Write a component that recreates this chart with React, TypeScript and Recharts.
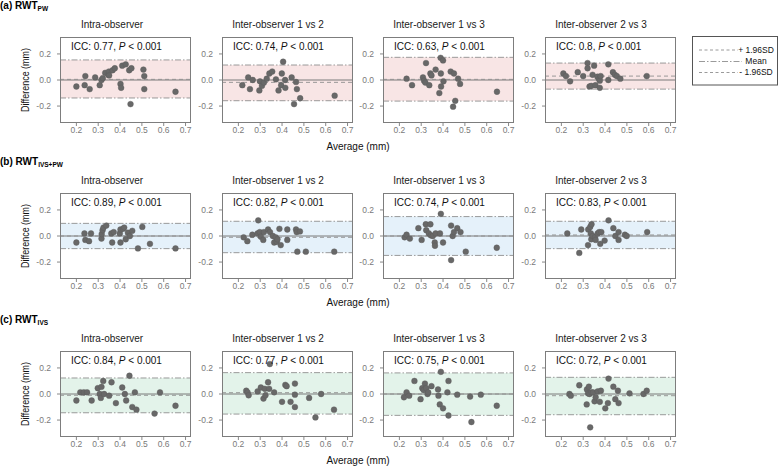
import React from "react";
import { ScatterChart, Scatter, XAxis, YAxis, ReferenceLine, ReferenceArea } from "recharts";

type Pt = [number, number];

// ---- data (average, difference) ----
const pwIntra: Pt[] = [[0.2,-0.05],[0.238,-0.04],[0.241,0.03],[0.261,-0.07],[0.286,0.02],[0.307,-0.04],[0.315,0.0],[0.321,0.015],[0.332,0.055],[0.346,0.04],[0.349,0.065],[0.35,0.035],[0.366,0.075],[0.376,0.09],[0.402,-0.03],[0.405,-0.06],[0.41,0.11],[0.426,0.12],[0.442,0.075],[0.448,-0.185],[0.452,0.09],[0.507,0.08],[0.511,0.03],[0.511,-0.07],[0.654,-0.09]];
const pwInter12: Pt[] = [[0.218,-0.04],[0.245,0.02],[0.253,-0.07],[0.266,0.0],[0.296,-0.08],[0.299,-0.01],[0.308,-0.045],[0.317,-0.02],[0.33,0.01],[0.342,0.05],[0.355,0.065],[0.372,0.005],[0.384,-0.08],[0.396,-0.04],[0.399,0.05],[0.405,0.14],[0.414,0.0],[0.415,-0.06],[0.444,0.02],[0.455,-0.185],[0.464,-0.015],[0.468,-0.07],[0.483,-0.14],[0.641,-0.12]];
const pwInter13: Pt[] = [[0.233,0.01],[0.258,-0.04],[0.308,0.02],[0.313,-0.005],[0.319,-0.02],[0.322,0.13],[0.337,-0.04],[0.342,0.05],[0.347,0.035],[0.366,0.08],[0.383,-0.1],[0.389,0.17],[0.39,0.05],[0.391,-0.05],[0.4,0.15],[0.402,-0.01],[0.435,0.065],[0.45,0.05],[0.446,-0.205],[0.456,-0.16],[0.469,0.01],[0.478,-0.03],[0.647,-0.09]];
const pwInter23: Pt[] = [[0.209,0.05],[0.221,0.03],[0.24,-0.01],[0.275,0.06],[0.3,0.03],[0.32,0.13],[0.32,0.09],[0.329,-0.05],[0.337,-0.045],[0.343,0.04],[0.35,0.11],[0.356,-0.04],[0.365,0.025],[0.373,0.005],[0.376,-0.005],[0.38,0.03],[0.376,-0.06],[0.415,0.12],[0.415,0.0],[0.436,0.06],[0.445,0.04],[0.454,0.03],[0.47,0.01],[0.591,0.03]];

const ivspwIntra: Pt[] = [[0.2,-0.05],[0.237,0.02],[0.241,-0.03],[0.258,-0.04],[0.267,0.02],[0.315,-0.02],[0.316,0.015],[0.32,0.045],[0.324,0.065],[0.337,0.08],[0.36,0.02],[0.364,-0.05],[0.371,0.03],[0.399,0.02],[0.402,0.05],[0.402,-0.05],[0.414,0.055],[0.419,0.065],[0.426,-0.025],[0.436,0.025],[0.445,0.0],[0.456,0.04],[0.482,-0.095],[0.502,0.07],[0.537,-0.06],[0.654,-0.095]];
const ivspwInter12: Pt[] = [[0.224,-0.01],[0.241,-0.04],[0.264,0.01],[0.288,0.02],[0.291,0.12],[0.298,0.03],[0.303,-0.005],[0.314,-0.03],[0.317,0.03],[0.336,0.05],[0.345,0.03],[0.358,0.0],[0.364,-0.05],[0.371,-0.01],[0.376,-0.045],[0.379,-0.025],[0.388,0.055],[0.394,-0.07],[0.424,0.05],[0.424,-0.03],[0.464,0.05],[0.467,0.03],[0.47,-0.12],[0.482,0.035],[0.509,-0.12],[0.639,-0.12]];
const ivspwInter13: Pt[] = [[0.224,-0.01],[0.233,0.01],[0.248,-0.02],[0.287,0.06],[0.302,-0.03],[0.321,0.09],[0.323,0.045],[0.335,0.02],[0.342,0.09],[0.344,0.005],[0.353,0.0],[0.362,-0.05],[0.363,-0.075],[0.366,0.02],[0.386,0.02],[0.39,0.17],[0.4,-0.05],[0.437,0.08],[0.437,-0.185],[0.444,0.0],[0.45,0.03],[0.465,0.06],[0.48,0.03],[0.504,-0.12],[0.646,-0.09]];
const ivspwInter23: Pt[] = [[0.227,0.02],[0.282,-0.13],[0.291,0.05],[0.322,-0.07],[0.323,0.05],[0.332,0.07],[0.335,0.02],[0.338,0.09],[0.337,-0.025],[0.343,0.0],[0.354,-0.01],[0.357,-0.03],[0.366,0.02],[0.373,0.03],[0.378,-0.06],[0.383,0.03],[0.398,-0.035],[0.416,0.12],[0.438,0.06],[0.447,0.0],[0.462,0.03],[0.462,-0.03],[0.491,0.01],[0.499,0.0],[0.593,0.03]];

const ivsIntra: Pt[] = [[0.2,-0.05],[0.218,0.013],[0.234,0.013],[0.249,0.013],[0.27,-0.05],[0.298,0.045],[0.307,0.0],[0.312,-0.03],[0.315,0.055],[0.323,0.1],[0.327,0.0],[0.35,-0.013],[0.361,0.09],[0.381,-0.07],[0.41,0.05],[0.422,0.0],[0.428,-0.05],[0.443,0.14],[0.456,-0.1],[0.468,0.013],[0.475,-0.12],[0.558,-0.15],[0.583,0.013],[0.654,-0.09]];
const ivsInter12: Pt[] = [[0.236,0.025],[0.242,0.013],[0.247,-0.01],[0.288,0.02],[0.303,0.05],[0.315,-0.035],[0.321,0.04],[0.324,-0.01],[0.336,0.09],[0.341,0.04],[0.344,0.23],[0.364,0.013],[0.4,-0.06],[0.415,0.07],[0.421,0.06],[0.439,-0.06],[0.459,0.08],[0.459,-0.005],[0.459,-0.1],[0.524,-0.03],[0.553,-0.18],[0.579,0.0],[0.638,-0.12]];
const ivsInter13: Pt[] = [[0.221,-0.025],[0.233,0.013],[0.245,-0.013],[0.269,0.1],[0.297,-0.04],[0.305,0.045],[0.311,0.03],[0.317,0.08],[0.323,0.045],[0.329,0.0],[0.332,0.013],[0.347,0.06],[0.377,0.035],[0.379,-0.013],[0.385,-0.08],[0.39,0.17],[0.4,-0.11],[0.42,0.013],[0.425,0.1],[0.425,-0.165],[0.465,-0.005],[0.524,-0.02],[0.53,-0.215],[0.573,-0.005],[0.646,-0.09]];
const ivsInter23: Pt[] = [[0.237,0.0],[0.243,-0.013],[0.282,0.067],[0.316,-0.08],[0.317,0.035],[0.322,0.005],[0.326,0.056],[0.329,0.0],[0.332,-0.256],[0.338,0.013],[0.345,0.013],[0.352,-0.056],[0.357,-0.025],[0.366,0.02],[0.376,-0.06],[0.381,0.025],[0.401,-0.11],[0.413,-0.07],[0.416,0.118],[0.438,0.056],[0.447,-0.04],[0.459,0.025],[0.462,-0.07],[0.512,0.005],[0.576,0.0],[0.591,0.025]];

// limits: [upper, mean, lower]
const pwLimits: number[][] = [[0.154,0.005,-0.138],[0.115,-0.018,-0.159],[0.174,0.005,-0.162],[0.13,0.03,-0.07]];
const ivspwLimits: number[][] = [[0.097,0.0,-0.097],[0.113,-0.01,-0.128],[0.149,0.0,-0.149],[0.113,0.008,-0.097]];
const ivsLimits: number[][] = [[0.123,-0.01,-0.144],[0.164,0.01,-0.154],[0.162,0.0,-0.164],[0.128,-0.013,-0.159]];

const rowLabels = [["(a) RWT", "PW"], ["(b) RWT", "IVS+PW"], ["(c) RWT", "IVS"]];
const panelTitles = ["Intra-observer", "Inter-observer 1 vs 2", "Inter-observer 1 vs 3", "Inter-observer 2 vs 3"];
const iccValues = [["0.77", "0.74", "0.63", "0.8"], ["0.89", "0.82", "0.74", "0.83"], ["0.84", "0.77", "0.75", "0.72"]];
const xTicks = [0.2, 0.3, 0.4, 0.5, 0.6, 0.7];
const yTicks = [-0.2, 0, 0.2];
const legendLabels = ["+ 1.96SD", "Mean", "- 1.96SD"];

const rowsData = [
  [pwIntra, pwInter12, pwInter13, pwInter23],
  [ivspwIntra, ivspwInter12, ivspwInter13, ivspwInter23],
  [ivsIntra, ivsInter12, ivsInter13, ivsInter23],
];
const rowsLimits = [pwLimits, ivspwLimits, ivsLimits];
const bandColors = ["#f8e5e5", "#e5f1fa", "#e3f3ea"];

// ---- layout ----
const FONT = "'Liberation Sans', Arial, Helvetica, sans-serif";
const PANEL_LEFT = [60, 222, 383, 545];
const TITLE_CX = [112, 278, 439, 601];
const ROW_TOP = [37, 193, 351];
const PW = 131;
const PH = 86;
const YW = 40;
const XH = 20;
const LINE = "#8e8e8e";

const dot = (p: any) => <circle cx={p.cx} cy={p.cy} r={2.9} fill="#686868" stroke="#5a5a5a" strokeWidth={0.4} />;

function Panel({ pts, limits, band, left, top, title, titleX, icc }: any) {
  const data = pts.map((d: Pt) => ({ x: d[0], y: d[1] }));
  const [upper, mean, lower] = limits;
  return (
    <>
      <div style={{ position: "absolute", left: left - YW, top, width: YW + PW + 1, height: PH + XH }}>
        <ScatterChart width={YW + PW + 1} height={PH + XH} margin={{ top: 0, right: 1, bottom: 0, left: 0 }}>
          <XAxis
            type="number"
            dataKey="x"
            domain={[0.125, 0.725]}
            ticks={xTicks}
            allowDataOverflow
            interval={0}
            axisLine={false}
            tickLine={{ stroke: "#888" }}
            tickSize={3}
            tickMargin={1}
            height={XH}
            tick={{ fontSize: 8.5, fill: "#7a7a7a", fontFamily: FONT }}
            tickFormatter={(v: number) => v.toFixed(1)}
          />
          <YAxis
            type="number"
            dataKey="y"
            domain={[-0.33, 0.33]}
            ticks={yTicks}
            allowDataOverflow
            interval={0}
            axisLine={false}
            tickLine={{ stroke: "#888" }}
            tickSize={3}
            tickMargin={6}
            width={YW}
            tick={{ fontSize: 8.5, fill: "#7a7a7a", fontFamily: FONT }}
            tickFormatter={(v: number) => v.toFixed(1)}
          />
          <ReferenceArea y1={lower} y2={upper} fill={band} fillOpacity={1} stroke="none" />
          <ReferenceLine y={0} stroke="#7a7a7a" strokeWidth={1} />
          <ReferenceLine y={mean} stroke={LINE} strokeWidth={0.9} strokeDasharray="4 3" />
          <ReferenceLine y={upper} stroke={LINE} strokeWidth={0.9} strokeDasharray="6 2 1.5 2" />
          <ReferenceLine y={lower} stroke={LINE} strokeWidth={0.9} strokeDasharray="6 2 1.5 2" />
          <Scatter data={data} isAnimationActive={false} shape={dot} />
        </ScatterChart>
      </div>
      <div style={{ position: "absolute", left, top, width: PW, height: PH, border: "1px solid #7d7d7d", boxSizing: "border-box", pointerEvents: "none" }} />
      <div style={{ position: "absolute", left: titleX, top: top - 12, transform: "translate(-50%,-50%)", fontFamily: FONT, fontSize: 10, color: "#1a1a1a", whiteSpace: "nowrap", lineHeight: 1 }}>
        {title}
      </div>
      <div style={{ position: "absolute", left: left + 11, top: top + 10, transform: "translateY(-50%)", fontFamily: FONT, fontSize: 10, color: "#111", whiteSpace: "nowrap", lineHeight: 1 }}>
        ICC: {icc}, <i>P</i> &lt; 0.001
      </div>
    </>
  );
}

export default function App() {
  return (
    <div style={{ position: "absolute", left: 0, top: 0, width: 778, height: 466, background: "#fff", overflow: "hidden", fontFamily: FONT }}>
      {rowsData.map((row, r) => (
        <React.Fragment key={r}>
          <div style={{ position: "absolute", left: 0, top: ROW_TOP[r] - 31, transform: "translateY(-50%)", fontFamily: FONT, fontSize: 10, fontWeight: "bold", color: "#000", whiteSpace: "nowrap", lineHeight: 1 }}>
            {rowLabels[r][0]}
            <span style={{ fontSize: 6.5, position: "relative", top: 2 }}>{rowLabels[r][1]}</span>
          </div>
          <div style={{ position: "absolute", left: 25, top: ROW_TOP[r] + PH / 2, transform: "translate(-50%,-50%) rotate(-90deg) scaleX(0.85)", fontFamily: FONT, fontSize: 10.5, color: "#111", whiteSpace: "nowrap", lineHeight: 1 }}>
            Difference (mm)
          </div>
          <div style={{ position: "absolute", left: 358, top: ROW_TOP[r] + PH + 24, transform: "translate(-50%,-50%)", fontFamily: FONT, fontSize: 10, color: "#111", whiteSpace: "nowrap", lineHeight: 1 }}>
            Average (mm)
          </div>
          {row.map((pts, c) => (
            <Panel
              key={c}
              pts={pts}
              limits={rowsLimits[r][c]}
              band={bandColors[r]}
              left={PANEL_LEFT[c]}
              top={ROW_TOP[r]}
              title={panelTitles[c]}
              titleX={TITLE_CX[c]}
              icc={iccValues[r][c]}
            />
          ))}
        </React.Fragment>
      ))}
      <svg style={{ position: "absolute", left: 692, top: 36 }} width={86} height={50}>
        <rect x={0.5} y={0.5} width={85} height={48.5} fill="#fff" stroke="#555" strokeWidth={1} />
        <line x1={7} x2={46} y1={14} y2={14} stroke={LINE} strokeWidth={0.9} strokeDasharray="3 2.5" />
        <line x1={7} x2={50} y1={25.5} y2={25.5} stroke={LINE} strokeWidth={0.9} strokeDasharray="6 2 1.5 2" />
        <line x1={7} x2={46} y1={36.5} y2={36.5} stroke={LINE} strokeWidth={0.9} strokeDasharray="3 2.5" />
        {legendLabels.map((t, i) => (
          <text key={t} x={64} y={[14, 25.5, 36.5][i]} dy="0.35em" textAnchor="middle" fontFamily={FONT} fontSize={8.5} fill="#111">
            {t}
          </text>
        ))}
      </svg>
    </div>
  );
}
